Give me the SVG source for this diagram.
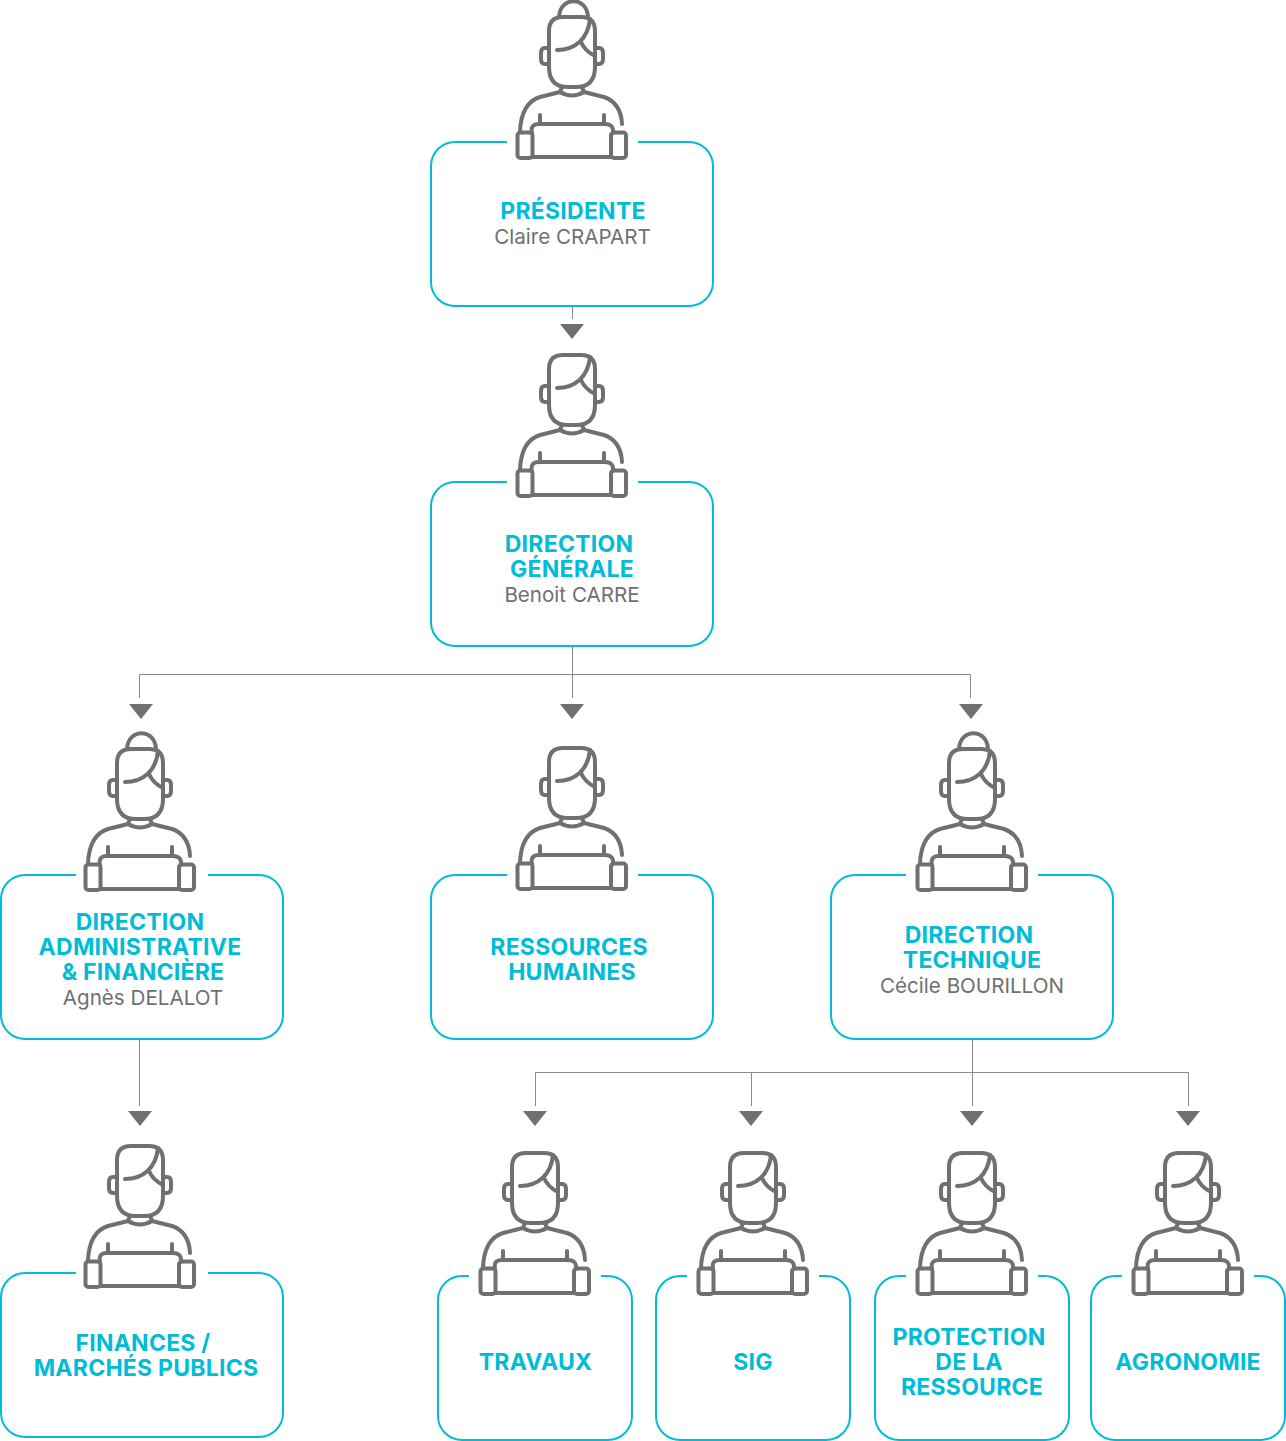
<svg xmlns="http://www.w3.org/2000/svg" width="1286" height="1441" viewBox="0 0 1286 1441">
<style>
.box{fill:none;stroke:#00bcd6;stroke-width:2}
.ic{fill:none;stroke:#707070;stroke-width:4;stroke-linecap:round;stroke-linejoin:round}
.con{fill:none;stroke:#8a8a8a;stroke-width:1}
.arr{fill:#707070}
text{text-anchor:middle;font-family:Inter,"Liberation Sans",sans-serif}
.t{font-size:23px;font-weight:700;fill:#00bcd6;letter-spacing:.25px}
.s{font-size:20.600px;fill:#707070}
</style>
<defs>
<g id="person" class="ic">
<path d="M49 24Q49 10 63 10H81Q95 10 95 24V60Q95 80 76 80H68Q49 80 49 60Z"/>
<path d="M57 43C75 43 88 32 90 12M81 35C84 42 89 46 95 49"/>
<path d="M49 41H45Q41 41 41 46V52Q41 57 45 57H49M95 41H99Q103 41 103 46V52Q103 57 99 57H95"/>
<path d="M62 80L60 85Q72 92 84 85L82 80"/>
<path d="M60 85L40 90Q21 96 20 125M84 85L104 90Q121 96 122 117"/>
<path d="M40 108V117M104 108V117"/>
<path d="M32 126Q30 117 39 117H105Q114 117 113 126M33 150H111"/>
<rect x="17.500" y="125.500" width="15" height="25.500" rx="3"/>
<rect x="111" y="125.500" width="15" height="25.500" rx="3"/>
</g>
<path id="bun" class="ic" d="M59 10C60 -11 87 -11 88 10"/>
<path id="tri" class="arr" d="M-12 0H12L0 15Z"/>
</defs>
<g id="connectors">
<path class="con" d="M572.500 306V319M572.500 646V698M139.500 698V674.500H970.500V698M139.500 1039V1106M972.500 1039V1106M535.500 1106V1072.500H1188.500V1106M751.500 1072.500V1106"/>
<use href="#tri" x="572" y="324"/>
<use href="#tri" x="141" y="704"/>
<use href="#tri" x="572" y="704"/>
<use href="#tri" x="971" y="704"/>
<use href="#tri" x="140" y="1111"/>
<use href="#tri" x="535" y="1111"/>
<use href="#tri" x="751" y="1111"/>
<use href="#tri" x="972" y="1111"/>
<use href="#tri" x="1188" y="1111"/>
</g>
<g id="n-presidente">
<path class="box" d="M507 142H455A24 24 0 0 0 431 166V282A24 24 0 0 0 455 306H689A24 24 0 0 0 713 282V166A24 24 0 0 0 689 142H638"/>
<use href="#person" x="500" y="7"/><use href="#bun" x="500" y="7"/>
<text class="t" x="573" y="219">PRÉSIDENTE</text>
<text class="s" x="572.500" y="244">Claire CRAPART</text>
</g>
<g id="n-dg">
<path class="box" d="M507 482H455A24 24 0 0 0 431 506V622A24 24 0 0 0 455 646H689A24 24 0 0 0 713 622V506A24 24 0 0 0 689 482H638"/>
<use href="#person" x="500" y="345"/>
<text class="t" x="569" y="552">DIRECTION</text>
<text class="t" x="572" y="577">GÉNÉRALE</text>
<text class="s" x="572" y="602">Benoit CARRE</text>
</g>
<g id="n-daf">
<path class="box" d="M76 875H25A24 24 0 0 0 1 899V1015A24 24 0 0 0 25 1039H259A24 24 0 0 0 283 1015V899A24 24 0 0 0 259 875H208"/>
<use href="#person" x="68" y="739"/><use href="#bun" x="68" y="739"/>
<text class="t" x="140" y="930">DIRECTION</text>
<text class="t" x="140" y="955">ADMINISTRATIVE</text>
<text class="t" x="143" y="980">&amp; FINANCIÈRE</text>
<text class="s" x="143" y="1005">Agnès DELALOT</text>
</g>
<g id="n-rh">
<path class="box" d="M507 875H455A24 24 0 0 0 431 899V1015A24 24 0 0 0 455 1039H689A24 24 0 0 0 713 1015V899A24 24 0 0 0 689 875H638"/>
<use href="#person" x="500" y="738"/>
<text class="t" x="569" y="955">RESSOURCES</text>
<text class="t" x="572" y="980">HUMAINES</text>
</g>
<g id="n-dt">
<path class="box" d="M906 875H855A24 24 0 0 0 831 899V1015A24 24 0 0 0 855 1039H1089A24 24 0 0 0 1113 1015V899A24 24 0 0 0 1089 875H1038"/>
<use href="#person" x="900" y="739"/><use href="#bun" x="900" y="739"/>
<text class="t" x="969" y="943">DIRECTION</text>
<text class="t" x="972" y="968">TECHNIQUE</text>
<text class="s" x="972" y="993">Cécile BOURILLON</text>
</g>
<g id="n-finances">
<path class="box" d="M76 1273H25A24 24 0 0 0 1 1297V1413A24 24 0 0 0 25 1437H259A24 24 0 0 0 283 1413V1297A24 24 0 0 0 259 1273H208"/>
<use href="#person" x="68" y="1136"/>
<text class="t" x="143" y="1351">FINANCES /</text>
<text class="t" x="146" y="1376">MARCHÉS PUBLICS</text>
</g>
<g id="n-travaux">
<path class="box" d="M469 1276H462A24 24 0 0 0 438 1300V1416A24 24 0 0 0 462 1440H608A24 24 0 0 0 632 1416V1300A24 24 0 0 0 608 1276H601"/>
<use href="#person" x="463" y="1143"/>
<text class="t" x="535.500" y="1370">TRAVAUX</text>
</g>
<g id="n-sig">
<path class="box" d="M687 1276H680A24 24 0 0 0 656 1300V1416A24 24 0 0 0 680 1440H826A24 24 0 0 0 850 1416V1300A24 24 0 0 0 826 1276H819"/>
<use href="#person" x="681" y="1143"/>
<text class="t" x="753" y="1370">SIG</text>
</g>
<g id="n-protection">
<path class="box" d="M906 1276H899A24 24 0 0 0 875 1300V1416A24 24 0 0 0 899 1440H1045A24 24 0 0 0 1069 1416V1300A24 24 0 0 0 1045 1276H1038"/>
<use href="#person" x="900" y="1143"/>
<text class="t" x="969" y="1345">PROTECTION</text>
<text class="t" x="969" y="1370">DE LA</text>
<text class="t" x="972" y="1395">RESSOURCE</text>
</g>
<g id="n-agronomie">
<path class="box" d="M1122 1276H1115A24 24 0 0 0 1091 1300V1416A24 24 0 0 0 1115 1440H1261A24 24 0 0 0 1285 1416V1300A24 24 0 0 0 1261 1276H1254"/>
<use href="#person" x="1116" y="1143"/>
<text class="t" x="1188" y="1370">AGRONOMIE</text>
</g>
</svg>
